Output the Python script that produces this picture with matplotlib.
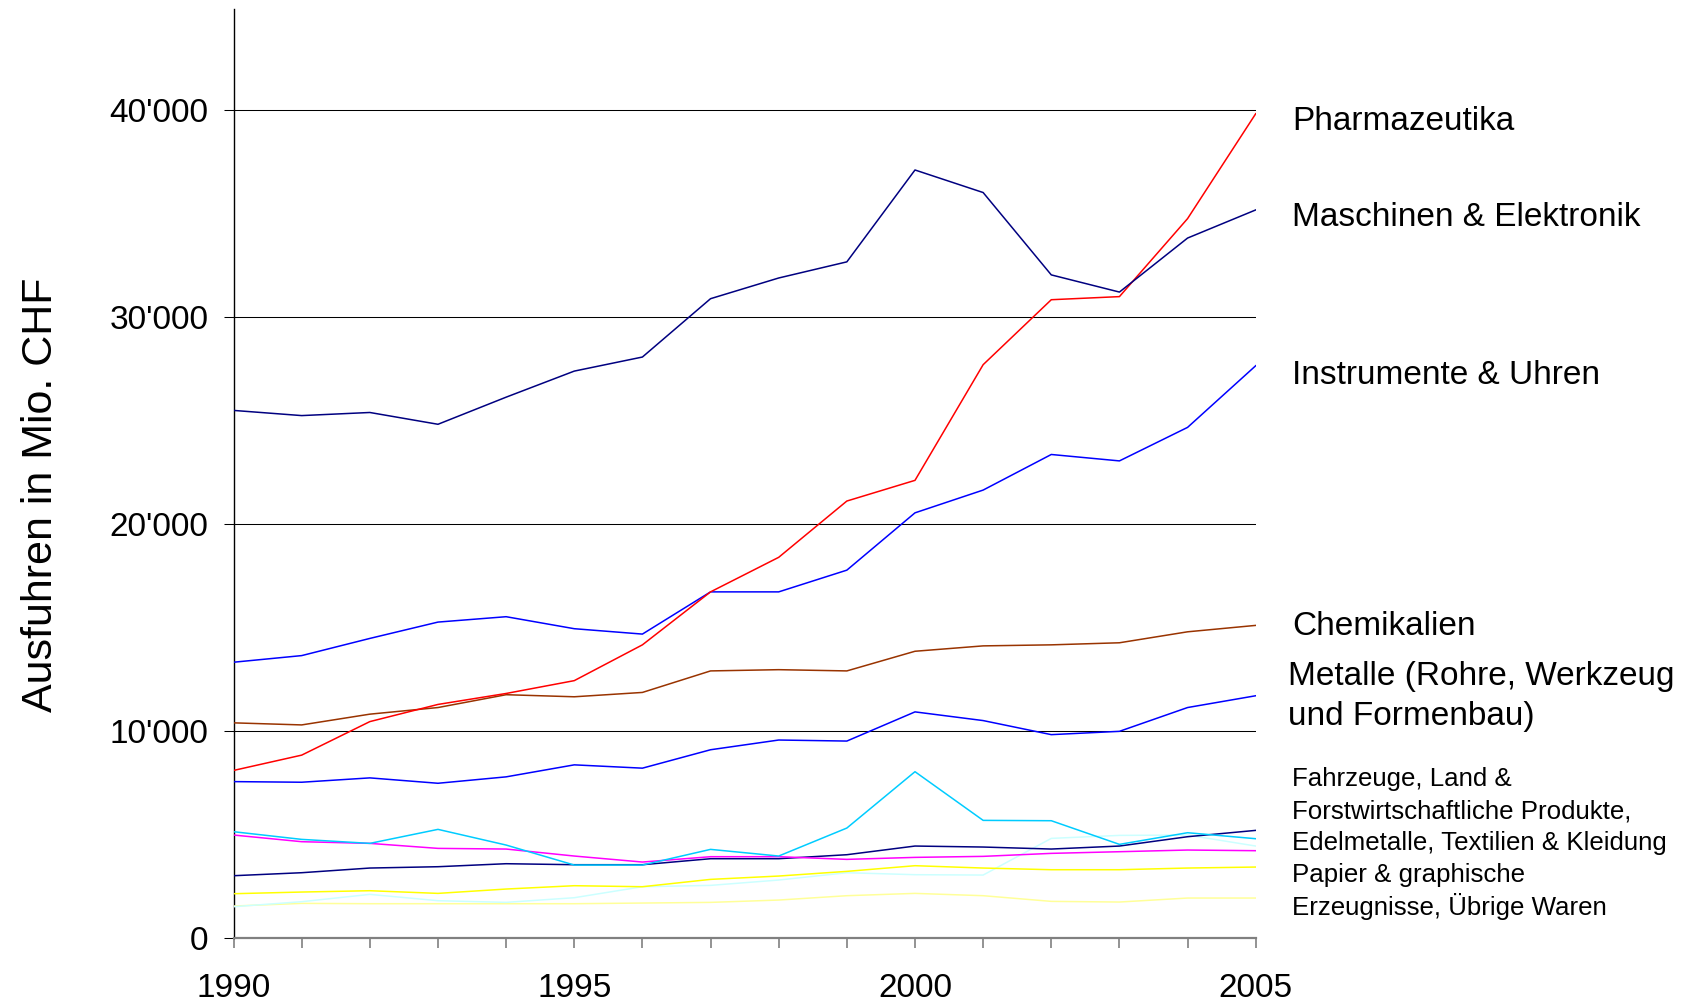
import matplotlib.pyplot as plt
from matplotlib.ticker import FuncFormatter

years = list(range(1990, 2006))

# Ausfuhren in Mio. CHF
maschinen = [25500, 25250, 25400, 24830, 26140, 27400, 28080, 30900,
             31900, 32680, 37120, 36030, 32050, 31220, 33830, 35190]
pharma = [8100, 8840, 10460, 11290, 11820, 12440, 14170, 16730,
          18400, 21120, 22120, 27710, 30850, 31000, 34770, 39840]
instrumente = [13330, 13650, 14480, 15270, 15530, 14950, 14690, 16730,
               16730, 17780, 20550, 21650, 23370, 23060, 24680, 27660]
chemikalien = [10400, 10300, 10820, 11140, 11760, 11660, 11870, 12910,
               12970, 12910, 13860, 14120, 14170, 14270, 14800, 15110]
metalle = [7560, 7530, 7740, 7480, 7790, 8370, 8210, 9100,
           9570, 9520, 10930, 10510, 9830, 9990, 11140, 11710]
fahrzeuge = [5139, 4768, 4575, 5252, 4494, 3528, 3528, 4285,
             3963, 5316, 8039, 5687, 5670, 4527, 5090, 4800]
land_forst = [4978, 4656, 4575, 4333, 4301, 3963, 3673, 3931,
              3931, 3802, 3898, 3947, 4092, 4172, 4253, 4221]
edelmetalle = [3012, 3157, 3383, 3447, 3592, 3544, 3544, 3834,
               3834, 4027, 4446, 4398, 4301, 4446, 4897, 5203]
textilien = [2142, 2223, 2287, 2158, 2368, 2529, 2480, 2835,
             2996, 3222, 3496, 3383, 3302, 3302, 3383, 3431]
papier = [1514, 1756, 2110, 1804, 1724, 1949, 2480, 2545,
          2803, 3157, 3061, 3044, 4816, 4961, 4978, 4446]
uebrige = [1546, 1675, 1659, 1659, 1659, 1659, 1691, 1723,
           1836, 2046, 2158, 2046, 1772, 1740, 1933, 1933]

series = [
    (uebrige, "#FFFF99"),
    (papier, "#CCFFFF"),
    (textilien, "#FFFF00"),
    (edelmetalle, "#000080"),
    (land_forst, "#FF00FF"),
    (fahrzeuge, "#00CCFF"),
    (metalle, "#0000FF"),
    (chemikalien, "#993300"),
    (instrumente, "#0000FF"),
    (pharma, "#FF0000"),
    (maschinen, "#000080"),
]

plt.rcParams["font.family"] = ["Liberation Sans", "DejaVu Sans"]

fig = plt.figure(figsize=(16.96, 10.01), dpi=100)
ax = fig.add_axes([0.1377, 0.0629, 0.6027, 0.9281])

for vals, col in series:
    ax.plot(years, vals, color=col, linewidth=1.1, zorder=3)

ax.set_xlim(1990, 2005)
ax.set_ylim(0, 44900)
ax.set_yticks([0, 10000, 20000, 30000, 40000])
ax.set_xticks(years)
ax.set_xticklabels([str(y) if y % 5 == 0 else "" for y in years])
ax.yaxis.set_major_formatter(FuncFormatter(lambda v, p: format(int(v), ",").replace(",", "'")))

ax.grid(axis="y", color="black", linewidth=0.75, zorder=1)
ax.spines["top"].set_visible(False)
ax.spines["right"].set_visible(False)
ax.spines["left"].set_linewidth(1.0)
ax.spines["bottom"].set_color("#808080")
ax.spines["bottom"].set_linewidth(1.6)
ax.tick_params(axis="y", length=7, width=0.75, pad=11, labelsize=24)
ax.tick_params(axis="x", length=7, width=1.2, color="#808080", pad=18, labelsize=24)

ax.set_ylabel("Ausfuhren in Mio. CHF", fontsize=31)
ax.yaxis.set_label_coords(-0.169, 0.477)

# series labels to the right of the plot
big = 24
dy = -0.0038
fig.text(0.7618, 0.882 + dy, "Pharmazeutika", fontsize=big, va="center")
fig.text(0.7618, 0.787 + dy, "Maschinen & Elektronik", fontsize=big, va="center")
fig.text(0.7618, 0.629 + dy, "Instrumente & Uhren", fontsize=big, va="center")
fig.text(0.7618, 0.378 + dy, "Chemikalien", fontsize=big, va="center")
fig.text(0.7594, 0.328 + dy, "Metalle (Rohre, Werkzeug", fontsize=big, va="center")
fig.text(0.7594, 0.288 + dy, "und Formenbau)", fontsize=big, va="center")

small_lines = ["Fahrzeuge, Land &",
               "Forstwirtschaftliche Produkte,",
               "Edelmetalle, Textilien & Kleidung",
               "Papier & graphische",
               "Erzeugnisse, Übrige Waren"]
for i, line in enumerate(small_lines):
    fig.text(0.7616, 0.2253 + dy - i * 0.0318, line, fontsize=18.6, va="center")

fig.savefig("out.png", dpi=100)
